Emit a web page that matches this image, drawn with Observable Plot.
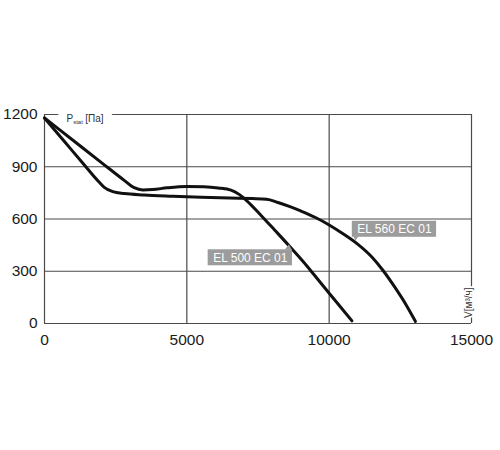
<!DOCTYPE html>
<html>
<head>
<meta charset="utf-8">
<script src="https://cdn.jsdelivr.net/npm/d3@7"></script>
<script src="https://cdn.jsdelivr.net/npm/@observablehq/plot@0.6"></script>
<style>
  html, body { margin: 0; padding: 0; background: #fff; }
</style>
</head>
<body>
<div id="chart"></div>
<script>
// ---- data ----
const xTicks = [0, 5000, 10000, 15000];
const yTicks = [0, 300, 600, 900, 1200];

const seriesNames = ["EL 500 EC 01", "EL 560 EC 01"];

const el500Flow     = [0, 1000, 2000, 2800, 3150, 3450, 3800, 4300, 5000, 5600, 6100, 6550, 6850, 7100, 7600, 8100, 8600, 9100, 9500, 10000, 10400, 10800];
const el500Pressure = [1180, 1052, 924, 822, 780, 767, 769, 779, 787, 785, 778, 766, 740, 706, 622, 534, 445, 353, 274, 174, 95, 15];

const el560Flow     = [0, 700, 1400, 1900, 2100, 2400, 2800, 3500, 4500, 5500, 6500, 7300, 7800, 8200, 8600, 9000, 9500, 10000, 10500, 11000, 11500, 11900, 12300, 12700, 13030];
const el560Pressure = [1180, 1045, 910, 815, 782, 757, 746, 738, 731, 725, 720, 717, 714, 695, 672, 646, 610, 566, 514, 456, 382, 303, 210, 108, 12];

const calloutFlow     = [8600, 10940];
const calloutPressure = [452, 472];

const yAxisTitle = ["P", "stat", "[Па]"];
const xAxisTitle = "V[м³/ч]";

// ---- tables built from the arrays ----
const curves = [
  ...el500Flow.map((q, i) => ({series: seriesNames[0], q, p: el500Pressure[i]})),
  ...el560Flow.map((q, i) => ({series: seriesNames[1], q, p: el560Pressure[i]}))
];
const callouts = seriesNames.map((name, i) => ({name, q: calloutFlow[i], p: calloutPressure[i]}));
const calloutOffsets = [{dx: -39, dy: 13}, {dx: 38.5, dy: -12}];

const gridColor = "#4a4a4a";
const titleText = yAxisTitle.join("");

const plot = Plot.plot({
  width: 500,
  height: 450,
  marginLeft: 44,
  marginRight: 29,
  marginTop: 114,
  marginBottom: 127,
  style: {fontFamily: "'Liberation Sans', Arial, sans-serif", background: "#fff", color: "#1a1a1a"},
  x: {domain: [xTicks[0], xTicks[xTicks.length - 1]]},
  y: {domain: [yTicks[0], yTicks[yTicks.length - 1]]},
  marks: [
    Plot.ruleX(xTicks, {stroke: gridColor, strokeWidth: 1.2}),
    Plot.ruleY(yTicks, {stroke: gridColor, strokeWidth: 1.2}),
    Plot.axisX(xTicks, {tickSize: 0, tickPadding: 10, fontSize: 15.5, label: null, tickFormat: d => String(d)}),
    Plot.axisY(yTicks, {tickSize: 0, tickPadding: 7, fontSize: 15.5, label: null, tickFormat: d => String(d)}),
    // white halo that opens the frame behind the y title
    Plot.text([titleText], {
      text: d => d, frameAnchor: "top-left", dx: 22, textAnchor: "start",
      fontSize: 10, fill: "#fff", stroke: "#fff", strokeWidth: 18
    }),
    Plot.text([titleText], {
      text: d => d, frameAnchor: "top-left", dx: 22, textAnchor: "start",
      fontSize: 10, fill: "#333"
    }),
    Plot.text([xAxisTitle], {
      text: d => d, frameAnchor: "bottom-right", dy: -36, rotate: -90,
      fontSize: 10, fill: "#333", stroke: "#fff", strokeWidth: 4
    }),
    Plot.line(curves, {x: "q", y: "p", z: "series", curve: "monotone-x", stroke: "#111", strokeWidth: 3}),
    ...callouts.map((c, i) => Plot.text([c], {
      x: "q", y: "p", text: "name",
      dx: calloutOffsets[i].dx, dy: calloutOffsets[i].dy,
      fill: "#fff", fontSize: 12
    }))
  ]
});

document.getElementById("chart").append(plot);

// ---- post-processing: subscript in the y title, callout boxes ----
const svgSel = d3.select(plot);
svgSel.selectAll("text").filter(function () { return this.textContent === titleText; }).each(function () {
  this.textContent = "";
  const s = d3.select(this);
  s.append("tspan").text(yAxisTitle[0]);
  s.append("tspan").attr("font-size", 6).attr("dy", 2).text(yAxisTitle[1]);
  s.append("tspan").attr("dy", -2).attr("dx", 2.5).text(yAxisTitle[2]);
});

const sx = plot.scale("x"), sy = plot.scale("y");
callouts.forEach((c, i) => {
  const t = svgSel.selectAll("text").filter(function () { return this.textContent === c.name; }).node();
  if (!t) return;
  let markG = t;
  while (markG.parentNode && markG.parentNode !== plot) markG = markG.parentNode;
  const len = t.getComputedTextLength();
  const w = len + 10, h = 16;
  const tx = sx.apply(c.q), ty = sy.apply(c.p);
  const cx = tx + calloutOffsets[i].dx, cy = ty + calloutOffsets[i].dy;
  const g = d3.create("svg:g").attr("fill", "#9c9c9c");
  g.append("rect").attr("x", cx - w / 2).attr("y", cy - h / 2).attr("width", w).attr("height", h);
  let d;
  if (cy < ty) {
    const edge = cy + h / 2 - 0.5;
    d = `M${tx - 2},${edge}L${tx + 3},${edge}L${tx},${ty}Z`;
  } else {
    const edge = cy - h / 2 + 0.5;
    d = `M${tx - 4},${edge}L${tx + 3},${edge}L${tx},${ty}Z`;
  }
  g.append("path").attr("d", d);
  plot.insertBefore(g.node(), markG);
});
</script>
</body>
</html>
